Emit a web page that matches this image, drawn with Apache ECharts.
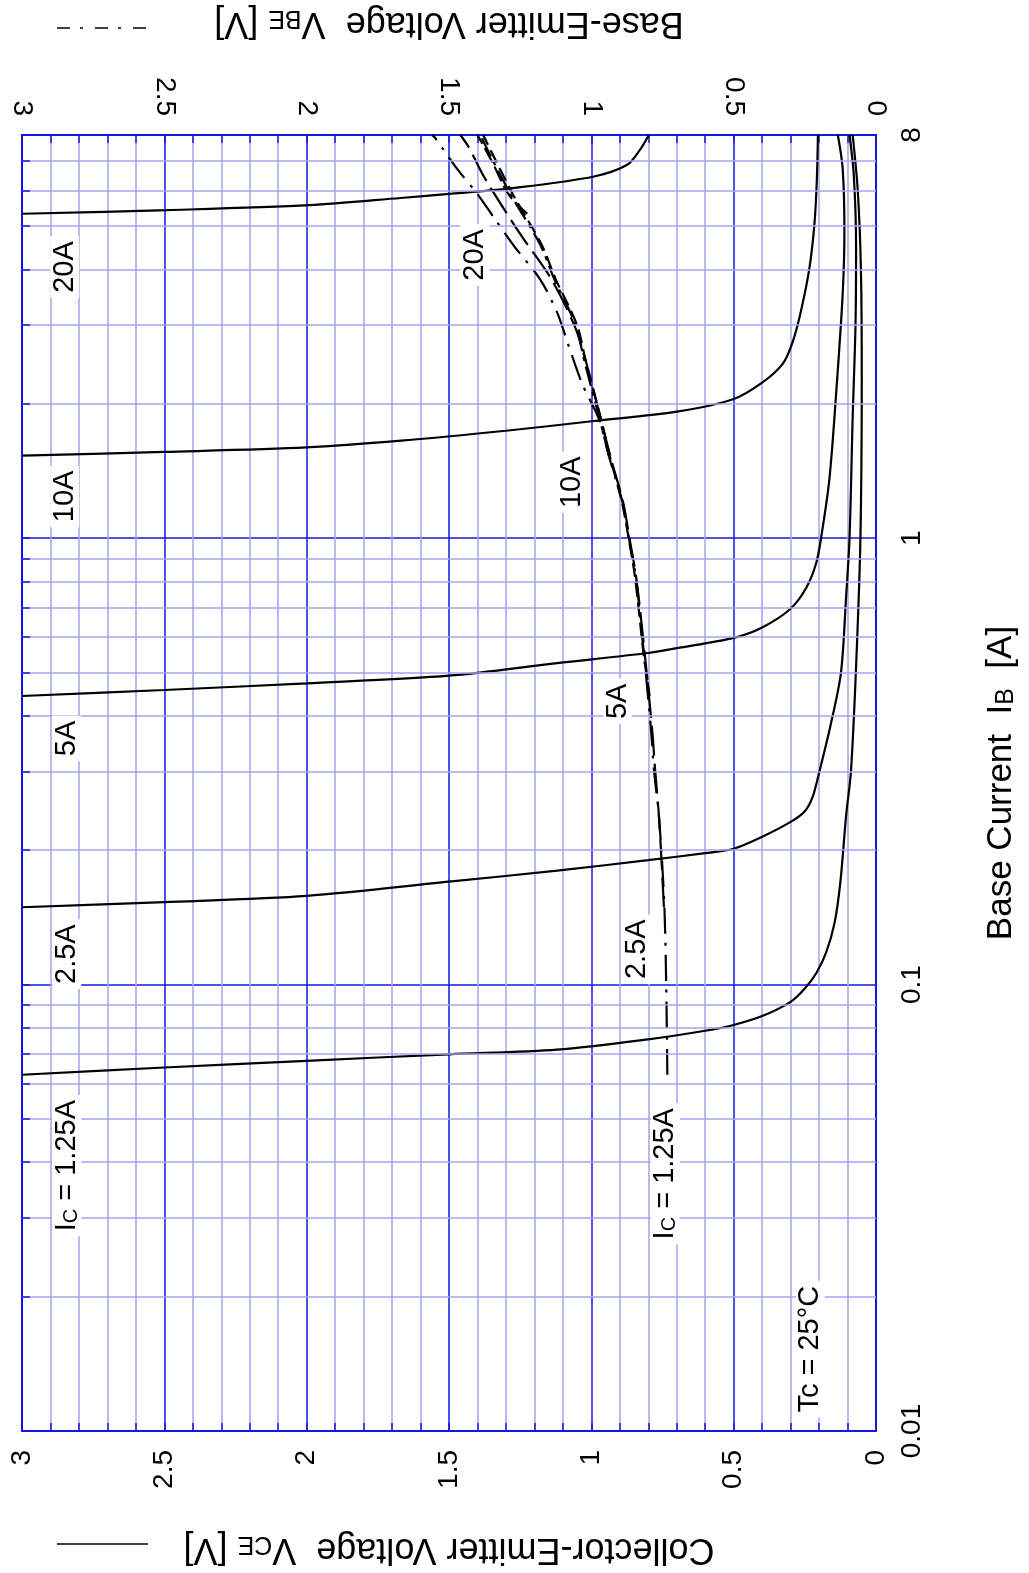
<!DOCTYPE html>
<html><head><meta charset="utf-8">
<script src="https://cdn.jsdelivr.net/npm/echarts@6/dist/echarts.min.js"></script>
<style>html,body{margin:0;padding:0;background:#fff}#c{width:1029px;height:1573px}</style>
</head><body><div id="c"></div>
<script>
// ---------- DATA ----------
// Collector-emitter saturation curves: [VCE (V), IB (A)]
const vce_1_25A = [[3.0,0.0628],[2.5,0.0652],[2.0,0.0675],[1.5,0.0698],[1.12,0.0715],[0.8,0.0754],[0.6,0.0788],[0.5,0.0812],[0.4,0.085],[0.3,0.0915],[0.25,0.098],[0.21,0.106],[0.175,0.118],[0.145,0.138],[0.125,0.17],[0.105,0.239],[0.088,0.30],[0.07,0.515],[0.055,0.98],[0.05,2.3],[0.053,4.0],[0.064,6.0],[0.082,8]];
const vce_2_5A  = [[3.0,0.149],[2.5,0.153],[2.0,0.158],[1.5,0.170],[1.12,0.18],[0.8,0.19],[0.6,0.197],[0.5,0.2015],[0.4,0.2143],[0.3,0.2314],[0.25,0.2445],[0.222,0.264],[0.2,0.298],[0.16,0.38],[0.123,0.5],[0.105,0.74],[0.093,1.0],[0.082,1.86],[0.072,3.0],[0.07,4.5],[0.078,6.5],[0.093,8]];
const vce_5A    = [[3.0,0.443],[2.5,0.457],[2.0,0.473],[1.5,0.492],[1.12,0.525],[0.8,0.553],[0.7,0.567],[0.5,0.598],[0.4,0.631],[0.3,0.695],[0.245,0.774],[0.21,0.88],[0.193,1.0],[0.164,1.35],[0.14,2.11],[0.117,3.53],[0.111,4.87],[0.117,6.72],[0.134,8]];
const vce_10A   = [[3.0,1.53],[2.5,1.56],[2.0,1.597],[1.668,1.653],[1.3,1.74],[0.991,1.83],[0.7,1.92],[0.5,2.05],[0.4,2.23],[0.327,2.46],[0.292,2.76],[0.263,3.24],[0.234,4.02],[0.216,5.08],[0.208,6.3],[0.204,8]];
const vce_20A   = [[3.0,5.33],[2.49,5.43],[1.99,5.57],[1.67,5.78],[1.49,5.91],[1.27,6.09],[0.99,6.46],[0.874,6.86],[0.83,7.4],[0.804,7.87],[0.798,8]];

// Base-emitter curves: [VBE (V), IB (A)]
const vbe_1_25A = [[0.733,0.0628],[0.737,0.1],[0.744,0.153],[0.762,0.236],[0.78,0.303],[0.79,0.37],[0.815,0.548],[0.843,0.813],[0.868,1.0],[0.89,1.2],[0.935,1.5],[0.975,1.86],[1.03,2.2],[1.08,2.7],[1.12,3.2],[1.18,3.8],[1.27,4.5],[1.34,5.2],[1.40,5.9],[1.47,6.7],[1.55,7.9],[1.56,8]];
const vbe_2_5A  = [[0.745,0.149],[0.762,0.236],[0.776,0.303],[0.786,0.37],[0.812,0.548],[0.842,0.813],[0.866,1.0],[0.888,1.2],[0.93,1.5],[0.968,1.86],[1.02,2.5],[1.06,3.0],[1.14,3.8],[1.24,4.7],[1.31,5.5],[1.38,6.5],[1.43,7.5],[1.46,8]];
const vbe_5A    = [[0.795,0.443],[0.816,0.548],[0.846,0.813],[0.869,1.0],[0.892,1.2],[0.932,1.5],[0.967,1.86],[1.02,2.5],[1.05,3.0],[1.125,3.8],[1.175,4.55],[1.275,5.88],[1.335,7.0],[1.38,8]];
const vbe_10A   = [[0.938,1.53],[0.972,1.86],[1.025,2.5],[1.055,3.0],[1.13,3.8],[1.18,4.55],[1.283,5.88],[1.345,7.0],[1.39,8]];
const vbe_20A   = [[1.225,5.33],[1.29,5.88],[1.35,7.0],[1.40,8]];

// Axis ticks
const ibLabels = [0.01, 0.1, 1, 8];
const ibMinorGrid = [0.02,0.03,0.04,0.05,0.06,0.07,0.08,0.09,0.2,0.3,0.4,0.5,0.6,0.7,0.8,0.9,2,3,4,5,6,7];
const ibAllGrid = [0.02,0.03,0.04,0.05,0.06,0.07,0.08,0.09,0.1,0.2,0.3,0.4,0.5,0.6,0.7,0.8,0.9,1,2,3,4,5,6,7];

// Curve annotations: [text, VCE/VBE position, IB position]
const curveLabels = [
  ['I{s|C} = 1.25A', 2.843, 0.0393],
  ['2.5A', 2.843, 0.117],
  ['5A', 2.843, 0.356],
  ['10A', 2.85, 1.24],
  ['20A', 2.85, 4.05],
  ['I{s|C} = 1.25A', 0.74, 0.0377],
  ['2.5A', 0.84, 0.12],
  ['5A', 0.907, 0.431],
  ['10A', 1.067, 1.334],
  ['20A', 1.409, 4.31],
  ['Tc = 25°C', 0.231, 0.01525]
];

// ---------- STYLE ----------
const FONT = '"Liberation Sans", Arial, Helvetica, sans-serif';
const blueDark = '#1616e4';
const blueLight = '#a4a4f0';
const rich = {
  s: {fontSize: 20, fontFamily: FONT, color: '#000', verticalAlign: 'bottom', lineHeight: 18, textBorderWidth: 0}
};
const nameRich = {
  s: {fontSize: 25, fontFamily: FONT, color: '#000', verticalAlign: 'bottom', lineHeight: 22}
};

const chart = echarts.init(document.getElementById('c'), null, {renderer: 'canvas'});

function xAxisCfg(pos, name, gap, showSplit) {
  return {
    type: 'value', position: pos, min: 0, max: 3, interval: 0.5, inverse: true,
    axisLine: {show: true, lineStyle: {color: blueDark, width: 2}},
    axisTick: {show: true, inside: true, length: 8, lineStyle: {color: blueDark, width: 1.5}},
    minorTick: {show: true, splitNumber: 5, length: 8, lineStyle: {color: blueDark, width: 1.5}},
    splitLine: {show: showSplit, lineStyle: {color: blueDark, width: 1.5}},
    minorSplitLine: {show: showSplit, lineStyle: {color: blueLight, width: 1.5}},
    axisLabel: {rotate: 90, margin: 19, fontSize: 28, color: '#000', fontFamily: FONT},
    name: name, nameLocation: 'middle', nameGap: gap, nameRotate: 180,
    nameTextStyle: {fontSize: 36, color: '#000', fontFamily: FONT, rich: nameRich}
  };
}

function vceSeries(data) {
  return {type: 'line', xAxisIndex: 0, yAxisIndex: 0, data: data, showSymbol: false, symbol: 'none',
    smooth: 0.3, lineStyle: {color: '#000', width: 2.2}, z: 4, silent: true};
}
function vbeSeries(data, dash) {
  return {type: 'line', xAxisIndex: 1, yAxisIndex: 0, data: data, showSymbol: false, symbol: 'none',
    smooth: 0.3, lineStyle: {color: '#000', width: 2.2, type: dash}, z: 4, silent: true};
}

const option = {
  animation: false,
  backgroundColor: '#fff',
  grid: {left: 22, right: 153, top: 132, bottom: 142, show: true, borderColor: blueDark, borderWidth: 2},
  xAxis: [
    xAxisCfg('bottom', 'Collector-Emitter Voltage  V{s|CE} [V]', 100, true),
    xAxisCfg('top', 'Base-Emitter Voltage  V{s|BE} [V]', 94, false)
  ],
  yAxis: [{
    type: 'log', logBase: 10, min: 0.01, max: 8, position: 'right',
    axisLine: {show: true, lineStyle: {color: blueDark, width: 2}},
    axisTick: {show: false, customValues: ibLabels},
    splitLine: {show: true, lineStyle: {color: blueDark, width: 1.5}},
    axisLabel: {rotate: 90, margin: 22, fontSize: 28, color: '#000', fontFamily: FONT, customValues: ibLabels,
      formatter: v => String(+v.toPrecision(3))},
    name: 'Base Current  I{s|B}  [A]', nameLocation: 'middle', nameGap: 108, nameRotate: 90,
    nameTextStyle: {fontSize: 35, color: '#000', fontFamily: FONT, rich: nameRich}
  }],
  graphic: [
    {type: 'line', shape: {x1: 57, y1: 1544, x2: 148, y2: 1544}, style: {stroke: '#000', lineWidth: 1.5}},
    {type: 'line', shape: {x1: 57, y1: 28, x2: 148, y2: 28}, style: {stroke: '#000', lineWidth: 1.5, lineDash: [13, 10, 3, 12]}}
  ],
  series: [
    {
      type: 'line', xAxisIndex: 0, yAxisIndex: 0, data: [], silent: true, z: 1,
      markLine: {
        silent: true, symbol: ['none', 'none'], animation: false, label: {show: false},
        lineStyle: {color: blueLight, width: 1.5, type: 'solid'},
        emphasis: {disabled: true},
        data: ibMinorGrid.map(v => ({yAxis: v}))
      }
    },
    {
      type: 'line', xAxisIndex: 0, yAxisIndex: 0, data: [], silent: true, z: 2,
      markLine: {
        silent: true, symbol: ['none', 'none'], animation: false, label: {show: false},
        lineStyle: {color: blueDark, width: 1.5, type: 'solid'},
        emphasis: {disabled: true},
        data: ibAllGrid.map(v => [{coord: [3, v]}, {coord: [2.972, v]}])
      }
    },
    vceSeries(vce_1_25A), vceSeries(vce_2_5A), vceSeries(vce_5A), vceSeries(vce_10A), vceSeries(vce_20A),
    vbeSeries(vbe_1_25A, [26, 9, 3, 9]),
    vbeSeries(vbe_2_5A, [30, 8]),
    vbeSeries(vbe_5A, [14, 6]),
    vbeSeries(vbe_10A, [20, 6, 4, 6]),
    vbeSeries(vbe_20A, [16, 5]),
    {
      type: 'scatter', xAxisIndex: 0, yAxisIndex: 0, symbol: 'rect', symbolSize: 1, silent: true, z: 6,
      itemStyle: {color: '#ffffff', opacity: 1},
      data: curveLabels.map(l => ({name: l[0], value: [l[1], l[2]]})),
      label: {show: true, position: 'inside', rotate: 90, formatter: p => p.name,
        fontSize: 29, color: '#000000', opacity: 1, fontFamily: FONT, backgroundColor: '#fff', padding: [0, 5],
        textBorderWidth: 0, textBorderColor: 'transparent', rich: rich},
      labelLayout: {hideOverlap: false}
    }
  ]
};
chart.setOption(option);
</script></body></html>
